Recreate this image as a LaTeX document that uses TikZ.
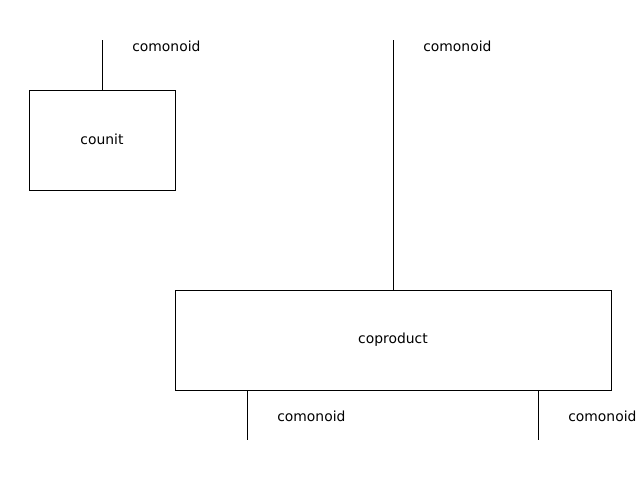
\documentclass[tikz,border=0pt]{standalone}
\usepackage{fontspec}
\setmainfont{DejaVu Sans}
\begin{document}
\begin{tikzpicture}[x=0.72pt,y=-0.72pt,
  box/.style={draw,line width=0.7pt,inner sep=0pt,anchor=north west},
  wire/.style={line width=0.7pt},
  lbl/.style={anchor=west,inner sep=0pt,font=\fontsize{10}{12}\selectfont},
  txt/.style={inner sep=0pt,font=\fontsize{10}{12}\selectfont}]
\useasboundingbox (0,0) rectangle (640,480);
\node[box,minimum width=146*0.72pt,minimum height=100*0.72pt] (counit) at (29,90) {};
\node[txt] (counitt) at (102,139.5) {counit};
\node[box,minimum width=436*0.72pt,minimum height=100*0.72pt] (coprod) at (175,290) {};
\node[txt] (coprodt) at (393,339.5) {coproduct};
\coordinate (t1) at (102,40);
\coordinate (t2) at (393,40);
\coordinate (b1) at (247,440);
\coordinate (b2) at (538,440);
\draw[wire] (t1) -- (counit.north -| t1);
\draw[wire] (t2) -- (coprod.north -| t2);
\draw[wire] (coprod.south -| b1) -- (b1);
\draw[wire] (coprod.south -| b2) -- (b2);
\node[lbl] (l1) at (132,46.5) {comonoid};
\node[lbl] (l2) at (423,46.5) {comonoid};
\node[lbl] (l3) at (277,416.5) {comonoid};
\node[lbl] (l4) at (568,416.5) {comonoid};
\end{tikzpicture}
\end{document}
